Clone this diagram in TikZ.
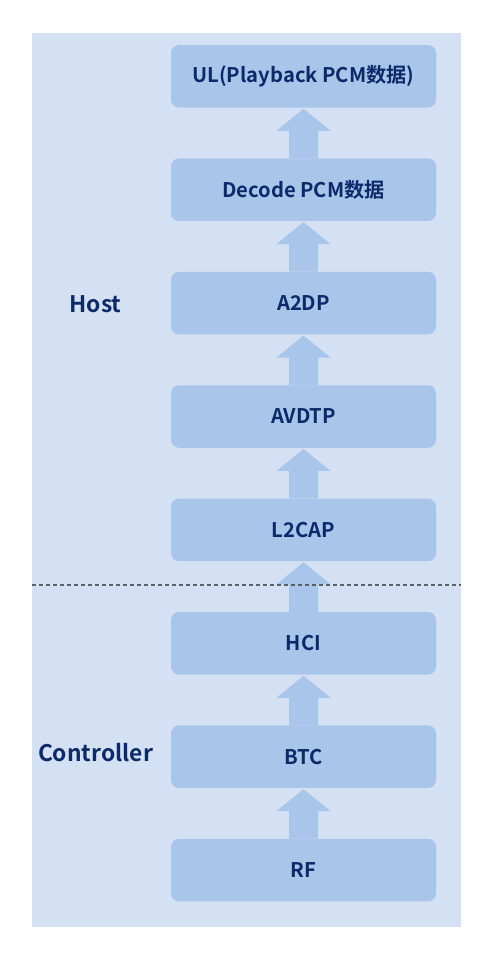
\documentclass[tikz,border=0pt]{standalone}
\usepackage{fontspec}
\setmainfont{Noto Sans CJK SC}[BoldFont={Noto Sans CJK SC Bold}]
\usetikzlibrary{calc}
\definecolor{panelbg}{HTML}{D4E0F3}
\definecolor{boxfill}{HTML}{A9C5EA}
\definecolor{txt}{HTML}{0C2A6A}
\definecolor{dashc}{HTML}{5A5F69}
\tikzset{
  layer/.style={fill=boxfill, draw=none, rounded corners=8pt, minimum width=265pt, minimum height=62.5pt, inner sep=0pt, text=txt, font=\fontsize{20.2pt}{23pt}\selectfont\bfseries},
  side/.style={text=txt, font=\fontsize{22.8pt}{26pt}\selectfont\bfseries, inner sep=0pt},
  blockarrow/.style={fill=boxfill, draw=none}
}
\newcommand{\uparrowblk}[2]{%
  \fill[blockarrow] ($(#1.north)+(-14.5pt,0)$) -- ($(#2.south)+(-14.5pt,-23pt)$) -- ($(#2.south)+(-27pt,-23pt)$) -- ($(#2.south)+(0,-1pt)$) -- ($(#2.south)+(27pt,-23pt)$) -- ($(#2.south)+(14.5pt,-23pt)$) -- ($(#1.north)+(14.5pt,0)$) -- cycle;}
\begin{document}
\begin{tikzpicture}[x=1pt,y=-1pt]
\useasboundingbox (0,0) rectangle (496,970);
\fill[panelbg] (32,33) rectangle (461,927);
\node[layer] (ul) at (303.5,76.3) {UL(Playback PCM数据)};
\node[layer] (dec) at (303.5,189.7) {Decode PCM数据};
\node[layer] (a2dp) at (303.5,303.1) {A2DP};
\node[layer] (avdtp) at (303.5,416.5) {AVDTP};
\node[layer] (l2cap) at (303.5,529.9) {L2CAP};
\node[layer] (hci) at (303.5,643.3) {HCI};
\node[layer] (btc) at (303.5,756.7) {BTC};
\node[layer] (rf) at (303.5,870.1) {RF};
\node[side] (host) at (95.5,304) {Host};
\node[side] (ctrl) at (95.5,753) {Controller};
\uparrowblk{dec}{ul}
\uparrowblk{a2dp}{dec}
\uparrowblk{avdtp}{a2dp}
\uparrowblk{l2cap}{avdtp}
\uparrowblk{hci}{l2cap}
\uparrowblk{btc}{hci}
\uparrowblk{rf}{btc}
\coordinate (dl) at (32,585);
\coordinate (dr) at (461,585);
\draw[dashc, line width=1.3pt, dash pattern=on 4pt off 3pt] (dl) -- (dr);
\end{tikzpicture}
\end{document}
